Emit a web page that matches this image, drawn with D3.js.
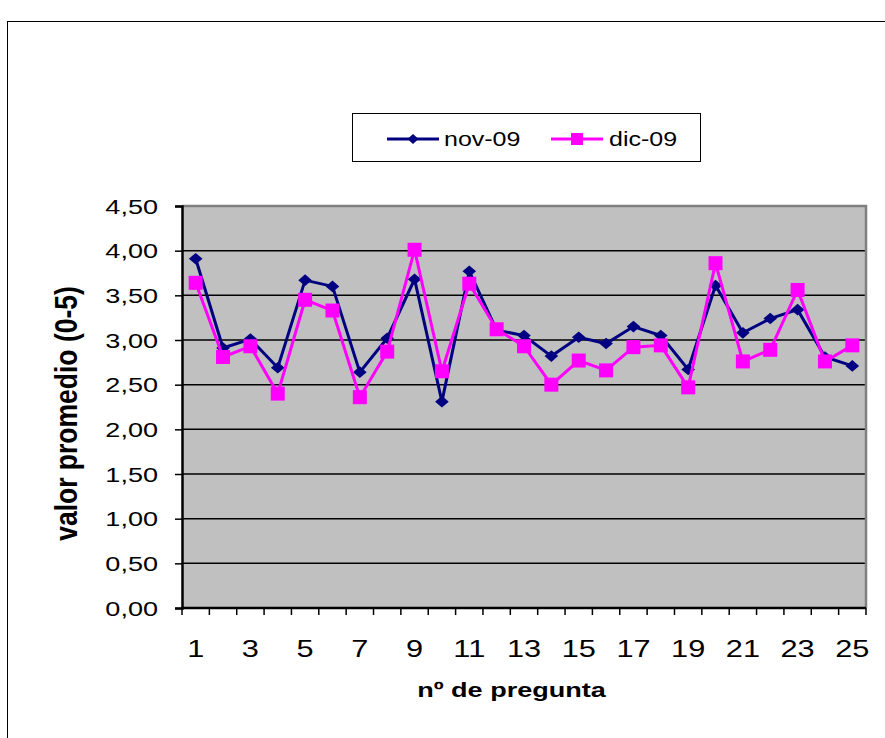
<!DOCTYPE html>
<html>
<head>
<meta charset="utf-8">
<script src="https://cdn.jsdelivr.net/npm/d3@7"></script>
<style>
  html, body { margin: 0; padding: 0; background: #fff; }
  svg { display: block; font-family: "Liberation Sans", Arial, sans-serif; }
</style>
</head>
<body>
<svg id="chart" width="885" height="738"></svg>
<script>
// Average score per question (scale 0-5), two survey rounds
const preguntas = d3.range(1, 26);
const nov09 = [3.91, 2.91, 3.01, 2.69, 3.67, 3.60, 2.64, 3.02, 3.68, 2.31,
               3.77, 3.11, 3.05, 2.82, 3.03, 2.96, 3.15, 3.05, 2.67, 3.61,
               3.08, 3.24, 3.34, 2.81, 2.71];
const dic09 = [3.64, 2.81, 2.93, 2.40, 3.45, 3.33, 2.36, 2.87, 4.01, 2.65,
               3.63, 3.12, 2.93, 2.50, 2.77, 2.66, 2.92, 2.94, 2.47, 3.86,
               2.76, 2.89, 3.56, 2.76, 2.94];
const yTicks = [0, 0.5, 1, 1.5, 2, 2.5, 3, 3.5, 4, 4.5];
const seriesNames = ["nov-09", "dic-09"];

const svg = d3.select("#chart");
const plot = { left: 182, right: 866, top: 206, bottom: 608 };
const FONT = "Liberation Sans, Arial, sans-serif";
const SX = 1.32; // text is drawn horizontally widened

// outer chart frame
svg.append("rect")
  .attr("x", 7.5).attr("y", 21.5)
  .attr("width", 900).attr("height", 800)
  .attr("fill", "#fff").attr("stroke", "#000").attr("stroke-width", 1);

const x = d3.scaleBand().domain(preguntas).range([plot.left, plot.right]);
const y = d3.scaleLinear().domain([0, 4.5]).range([plot.bottom, plot.top]);
const fmt = v => d3.format(".2f")(v).replace(".", ",");

// plot background
svg.append("rect")
  .attr("x", plot.left).attr("y", plot.top)
  .attr("width", plot.right - plot.left).attr("height", plot.bottom - plot.top)
  .attr("fill", "#c0c0c0");

// horizontal gridlines
svg.append("g").selectAll("line")
  .data(yTicks.filter(d => d > 0 && d < 4.5))
  .join("line")
  .attr("x1", plot.left).attr("x2", plot.right)
  .attr("y1", d => y(d)).attr("y2", d => y(d))
  .attr("stroke", "#000").attr("stroke-width", 1.5);

// grey border on top and right of the plot area
svg.append("path")
  .attr("d", `M${plot.left},${plot.top}H${plot.right}V${plot.bottom}`)
  .attr("fill", "none").attr("stroke", "#808080").attr("stroke-width", 2.5);

// y axis
const yAxis = svg.append("g")
  .attr("transform", `translate(${plot.left},0)`)
  .call(d3.axisLeft(y).tickValues(yTicks).tickFormat(fmt).tickSize(7));
yAxis.select(".domain").attr("stroke", "#000").attr("stroke-width", 2.5);
yAxis.selectAll(".tick line").attr("stroke", "#000").attr("stroke-width", 1.5);
yAxis.selectAll(".tick text")
  .attr("x", 0).attr("dy", null)
  .attr("transform", `translate(-24,7) scale(${SX},1)`)
  .attr("text-anchor", "end")
  .attr("font-size", 20.5).attr("fill", "#000").attr("font-family", FONT);

// x axis: ticks between categories, labels on odd questions
const xAxis = svg.append("g")
  .attr("transform", `translate(0,${plot.bottom})`)
  .call(d3.axisBottom(x).tickSize(0)
    .tickFormat(d => d % 2 === 1 ? d : ""));
xAxis.select(".domain").remove();
xAxis.selectAll(".tick text")
  .attr("y", 0).attr("dy", null)
  .attr("transform", `translate(0,49) scale(1.28,1)`)
  .attr("text-anchor", "middle")
  .attr("font-size", 24).attr("fill", "#000").attr("font-family", FONT);
svg.append("line")
  .attr("x1", plot.left - 1).attr("x2", plot.right)
  .attr("y1", plot.bottom).attr("y2", plot.bottom)
  .attr("stroke", "#000").attr("stroke-width", 2.5);
svg.append("g").selectAll("line")
  .data(preguntas.concat([26]))
  .join("line")
  .attr("x1", d => d <= 25 ? x(d) : plot.right)
  .attr("x2", d => d <= 25 ? x(d) : plot.right)
  .attr("y1", plot.bottom).attr("y2", plot.bottom + 7)
  .attr("stroke", "#000").attr("stroke-width", 1.5);

// axis titles
svg.append("text")
  .attr("transform", `translate(511.5,697) scale(${SX},1)`)
  .attr("text-anchor", "middle")
  .attr("font-size", 20.5).attr("font-weight", "bold")
  .text("nº de pregunta");
svg.append("text")
  .attr("transform", `translate(77,${(285 + 542) / 2}) scale(1.2,1) rotate(-90)`)
  .attr("text-anchor", "middle")
  .attr("font-size", 26.5).attr("font-weight", "bold")
  .text("valor promedio (0-5)");

const cx = d => x(d) + x.bandwidth() / 2;
const line = d3.line().x(d => cx(d[0])).y(d => y(d[1]));

const navy = "#000080", magenta = "#ff00ff";
const diamondPath = (w, h) => `M0,${-h}L${w},0L0,${h}L${-w},0Z`;

// nov-09 series
svg.append("path")
  .datum(preguntas.map((p, i) => [p, nov09[i]]))
  .attr("d", line).attr("fill", "none")
  .attr("stroke", navy).attr("stroke-width", 3);
svg.append("g").selectAll("path")
  .data(preguntas.map((p, i) => [p, nov09[i]]))
  .join("path")
  .attr("d", diamondPath(6.8, 5.8))
  .attr("transform", d => `translate(${cx(d[0])},${y(d[1])})`)
  .attr("fill", navy);

// dic-09 series
svg.append("path")
  .datum(preguntas.map((p, i) => [p, dic09[i]]))
  .attr("d", line).attr("fill", "none")
  .attr("stroke", magenta).attr("stroke-width", 3);
svg.append("g").selectAll("rect")
  .data(preguntas.map((p, i) => [p, dic09[i]]))
  .join("rect")
  .attr("x", d => cx(d[0]) - 7).attr("y", d => y(d[1]) - 7)
  .attr("width", 14).attr("height", 14)
  .attr("fill", magenta);

// legend
const legend = svg.append("g");
legend.append("rect")
  .attr("x", 352.5).attr("y", 113.5).attr("width", 348).attr("height", 48)
  .attr("fill", "#fff").attr("stroke", "#000").attr("stroke-width", 1);
const legendItems = [
  { name: seriesNames[0], color: navy, x0: 387, x1: 439, tx: 444, marker: "diamond" },
  { name: seriesNames[1], color: magenta, x0: 551, x1: 603, tx: 609, marker: "square" }
];
legendItems.forEach(it => {
  const ly = 139;
  legend.append("line")
    .attr("x1", it.x0).attr("x2", it.x1).attr("y1", ly).attr("y2", ly)
    .attr("stroke", it.color).attr("stroke-width", 3);
  const mx = (it.x0 + it.x1) / 2;
  if (it.marker === "diamond") {
    legend.append("path").attr("d", diamondPath(5.5, 5))
      .attr("transform", `translate(${mx},${ly})`).attr("fill", it.color);
  } else {
    legend.append("rect").attr("x", mx - 6).attr("y", ly - 6)
      .attr("width", 12).attr("height", 12).attr("fill", it.color);
  }
  legend.append("text")
    .attr("transform", `translate(${it.tx},146) scale(1.25,1)`)
    .attr("font-size", 20).text(it.name);
});
</script>
</body>
</html>
